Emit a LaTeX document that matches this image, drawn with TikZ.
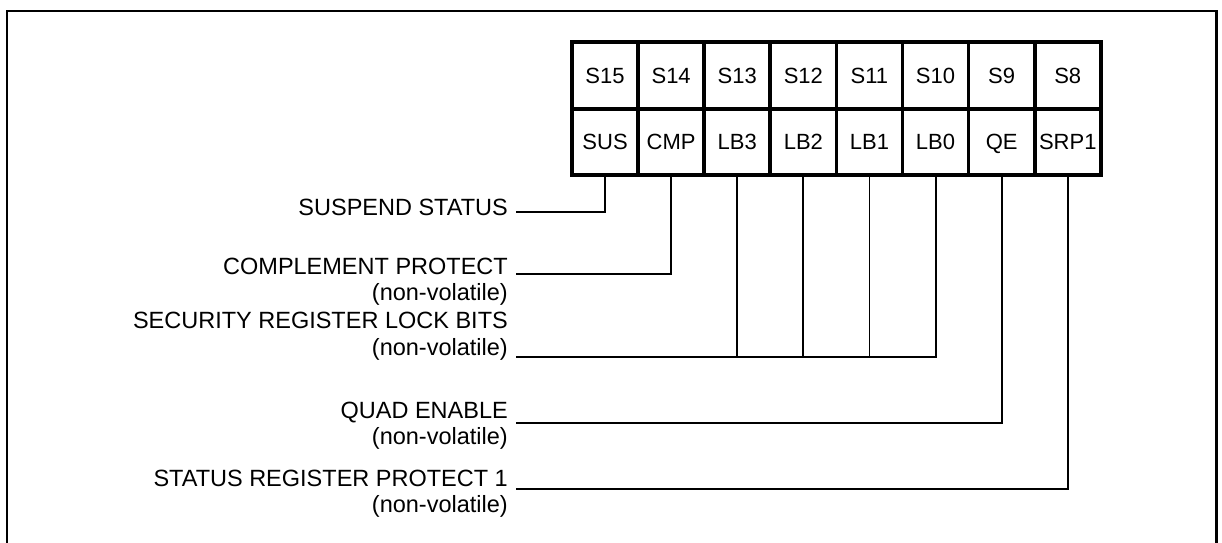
\documentclass[tikz,border=0pt]{standalone}
\usepackage{fontspec}
\setmainfont{Liberation Sans}
\begin{document}
\begin{tikzpicture}[x=1pt,y=-1pt,
  cell/.style={draw, line width=3.7pt, minimum width=66.1pt, minimum height=66.5pt,
    inner sep=0pt, outer sep=0pt, text height=15.8pt, text depth=0pt,
    font=\fontsize{22}{25}\selectfont},
  lbl/.style={anchor=base east, inner sep=0pt, font=\fontsize{23.5}{26}\selectfont},
  conn/.style={line width=1.9pt},
  frame/.style={line width=2.6pt}]
\useasboundingbox (0,0) rectangle (1222,542);
\draw[frame] (7,600) |- (1216.5,11) -- (1216.5,600);
% register cells
\foreach \t/\b/\n [count=\i from 0] in
  {S15/SUS/sus, S14/CMP/cmp, S13/LB3/lbthree, S12/LB2/lbtwo,
   S11/LB1/lbone, S10/LB0/lbzero, S9/QE/qe, S8/SRP1/srp}{
  \node[cell] (t\n) at ({572+66.1*(\i+0.5)},75.5) {\t};
  \node[cell] (\n) at ({572+66.1*(\i+0.5)},142) {\b};
}
% labels
\node[lbl] (lsus) at (508,215) {SUSPEND STATUS};
\node[lbl] (lcmp) at (508,274) {COMPLEMENT PROTECT};
\node[lbl] (ncmp) at (508,300) {(non-volatile)};
\node[lbl] (lsec) at (508,328) {SECURITY REGISTER LOCK BITS};
\node[lbl] (nsec) at (508,355) {(non-volatile)};
\node[lbl] (lqe) at (508,418) {QUAD ENABLE};
\node[lbl] (nqe) at (508,444) {(non-volatile)};
\node[lbl] (lsrp) at (508,486) {STATUS REGISTER PROTECT 1};
\node[lbl] (nsrp) at (508,512) {(non-volatile)};
% connector ends
\coordinate (c1) at (516,212);
\coordinate (c2) at (516,274);
\coordinate (c3) at (516,357);
\coordinate (c4) at (516,423);
\coordinate (c5) at (516,489);
% connectors
\draw[conn] (sus.south) |- (c1);
\draw[conn] (cmp.south) |- (c2);
\draw[conn] (lbzero.south) |- (c3);
\draw[conn] (lbthree.south) -- (lbthree.south |- c3);
\draw[conn] (lbtwo.south) -- (lbtwo.south |- c3);
\draw[conn] (lbone.south) -- (lbone.south |- c3);
\draw[conn] (qe.south) |- (c4);
\draw[conn] (srp.south) |- (c5);
\end{tikzpicture}
\end{document}
